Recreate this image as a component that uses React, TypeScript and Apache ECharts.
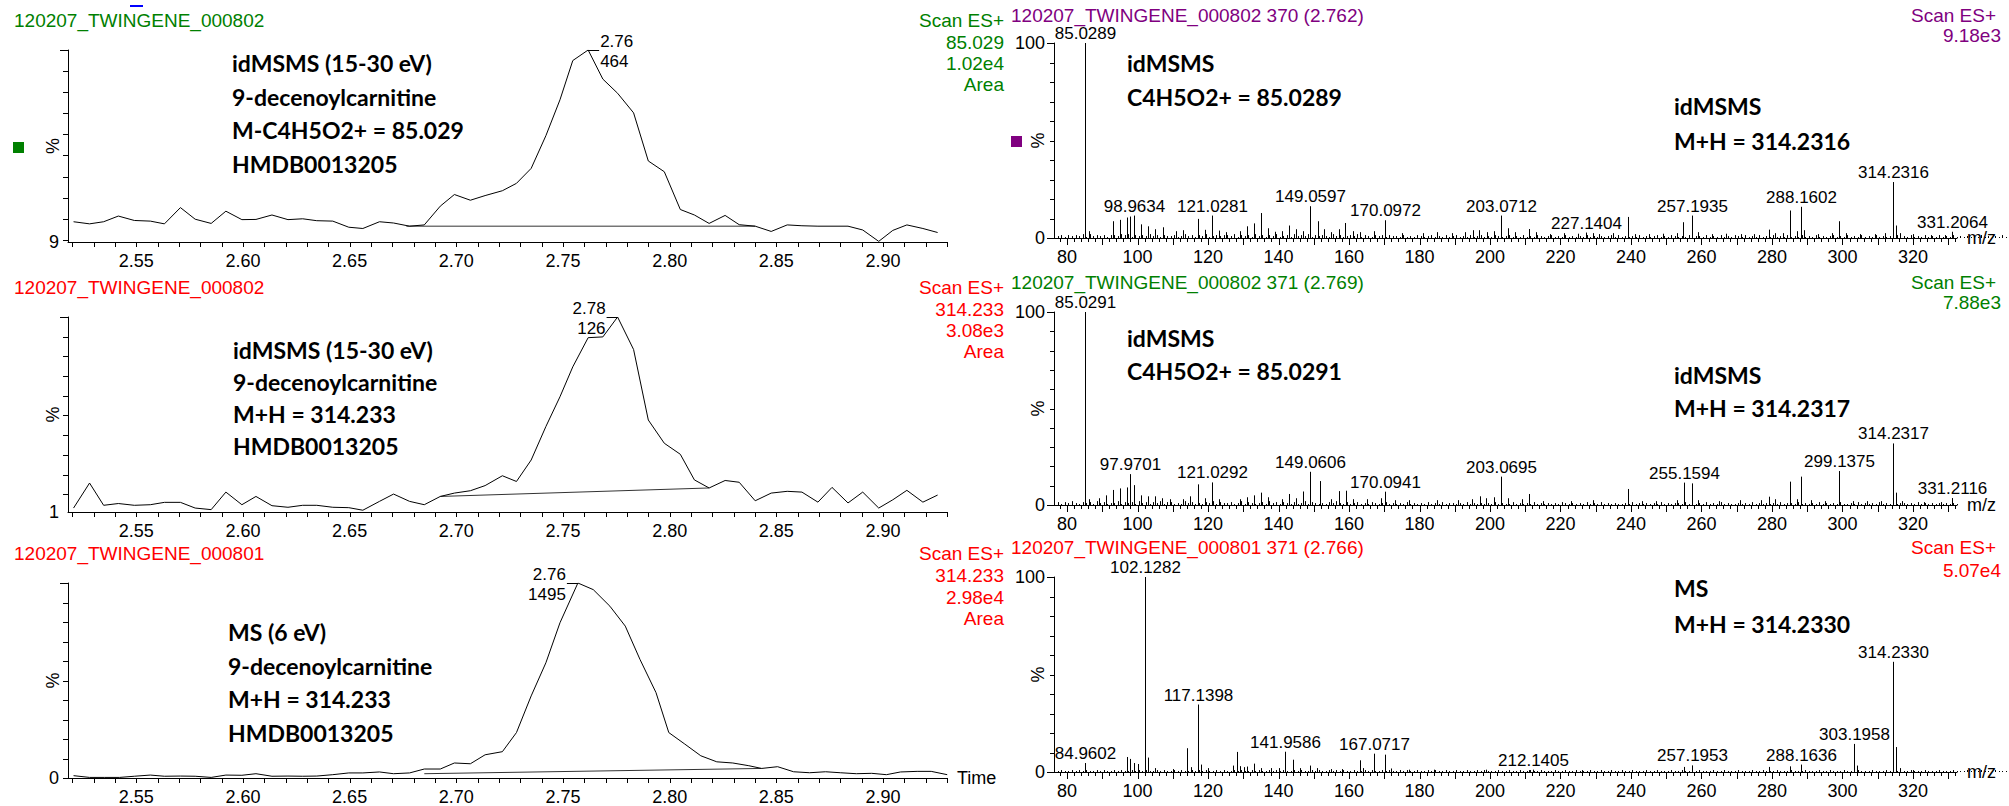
import React, { useEffect, useRef } from 'react';
import * as echarts from 'echarts';

const FONT = '"Liberation Sans", Arial, sans-serif';
const BOLD = 'Lato, "Open Sans", sans-serif';
const GREEN = '#008000';
const RED = '#ff0000';
const PURPLE = '#800080';

// ---------- chromatograms ----------
const scanTime802 = [2.5206, 2.5281, 2.5347, 2.5416, 2.5491, 2.5566, 2.5632, 2.5707, 2.5776, 2.5851, 2.5920, 2.5995, 2.6061, 2.6136, 2.6211, 2.6280, 2.6346, 2.6421, 2.6496, 2.6562, 2.6640, 2.6706, 2.6781, 2.6850, 2.6925, 2.6991, 2.7066, 2.7135, 2.7216, 2.7282, 2.7351, 2.7420, 2.7486, 2.7546, 2.7618, 2.7687, 2.7756, 2.7831, 2.7900, 2.7975, 2.8050, 2.8116, 2.8185, 2.8260, 2.8326, 2.8401, 2.8476, 2.8551, 2.8620, 2.8695, 2.8761, 2.8836, 2.8905, 2.8980, 2.9046, 2.9112, 2.9187, 2.9256];
const scanTime801 = [2.5206, 2.5281, 2.5350, 2.5422, 2.5491, 2.5566, 2.5632, 2.5707, 2.5776, 2.5851, 2.5920, 2.5995, 2.6061, 2.6136, 2.6211, 2.6280, 2.6346, 2.6421, 2.6496, 2.6562, 2.6640, 2.6706, 2.6781, 2.6850, 2.6925, 2.6991, 2.7066, 2.7135, 2.7216, 2.7282, 2.7351, 2.7420, 2.7486, 2.7570, 2.7642, 2.7720, 2.7792, 2.7861, 2.7936, 2.7996, 2.8071, 2.8146, 2.8221, 2.8296, 2.8371, 2.8431, 2.8506, 2.8581, 2.8656, 2.8731, 2.8800, 2.8875, 2.8947, 2.9016, 2.9082, 2.9160, 2.9226, 2.9301];
const trace85 = [18.6, 17.6, 18.6, 21.3, 19.2, 18.9, 17.6, 25.3, 19.8, 17.8, 23.6, 19.6, 19.7, 21.8, 19.6, 20.0, 19.1, 18.9, 16.0, 15.4, 18.6, 18.0, 16.5, 17.1, 26.0, 31.5, 28.8, 31.0, 33.3, 36.8, 43.9, 59.4, 76.4, 95.0, 100, 86.2, 79.5, 70.2, 47.4, 42.3, 24.4, 21.8, 17.8, 21.6, 17.2, 16.5, 14.0, 17.1, 16.7, 16.5, 16.5, 16.5, 14.7, 9.3, 14.5, 17.1, 15.4, 13.5];
const trace314ms2 = [3.0, 15.7, 4.4, 5.3, 4.4, 4.7, 5.9, 5.9, 3.0, 2.2, 11.1, 4.7, 8.9, 4.2, 3.4, 4.4, 4.4, 3.4, 3.2, 1.9, 6.4, 10.1, 6.4, 4.7, 8.9, 10.6, 11.8, 14.4, 19.4, 16.5, 27.4, 44.4, 59.5, 74.7, 89.5, 89.9, 100, 83.5, 47.7, 35.9, 30.3, 17.3, 13.2, 17.0, 16.1, 6.7, 10.6, 11.5, 11.1, 6.0, 13.5, 5.6, 11.1, 3.0, 7.2, 12.0, 6.0, 9.6];
const trace314ms = [1.2, 0.3, 0.3, 0.3, 0.9, 1.5, 0.9, 1.0, 0.9, 0.3, 1.5, 1.4, 2.2, 0.9, 1.0, 0.9, 1.0, 1.7, 2.6, 2.6, 3.1, 2.2, 2.6, 4.6, 4.6, 7.7, 7.3, 11.9, 13.5, 23.3, 42.1, 59.1, 79.6, 100, 96.6, 88.1, 77.9, 60.8, 43.8, 23.3, 17.4, 11.4, 8.3, 7.7, 6.3, 4.9, 5.8, 3.2, 2.7, 3.2, 2.7, 2.2, 2.4, 1.7, 3.1, 3.4, 3.4, 1.7];
const baseline85 = [[2.6766, 16.5], [2.8401, 16.5]];
const baseline314ms2 = [[2.6925, 8.9], [2.8185, 13.2]];
const baseline314ms = [[2.6850, 2.2], [2.8431, 4.9]];
const chromYMin = [9, 1, 0];
const chromYLabels = ['9', '1', '0'];
const apexTimeLabels = ['2.76', '2.78', '2.76'];
const apexHeightLabels = ['464', '126', '1495'];
const timeTickLabels = [2.55, 2.6, 2.65, 2.7, 2.75, 2.8, 2.85, 2.9];

// ---------- spectra ----------
const spec1Labelled = [[85.0289, 100], [98.9634, 11.5], [121.0281, 11.5], [149.0597, 16.3], [170.0972, 9.1], [203.0712, 11.5], [227.1404, 2.8], [257.1935, 11.5], [288.1602, 16.0], [314.2316, 28.7], [331.2064, 3.2]];
const spec1Minor = [[86.1, 3.5], [93.0, 8.6], [95.0, 9.3], [97.0, 10.5], [98.0, 11.0], [100.9, 7.0], [103.1, 6.0], [105.0, 4.5], [107.1, 5.5], [111.0, 3.5], [113.0, 4.0], [117.1, 9.8], [119.0, 4.2], [123.0, 3.8], [125.1, 3.0], [129.0, 3.5], [131.1, 6.0], [133.0, 7.5], [135.0, 12.8], [137.1, 5.0], [139.0, 3.2], [141.0, 3.5], [143.1, 6.4], [145.0, 4.5], [147.0, 3.5], [151.1, 8.6], [153.0, 4.5], [155.0, 3.0], [157.1, 4.5], [159.0, 7.7], [161.0, 3.5], [163.1, 3.0], [167.0, 3.5], [175.0, 2.5], [181.1, 2.5], [185.0, 3.0], [189.1, 2.5], [193.0, 3.0], [195.1, 4.0], [197.0, 4.0], [199.1, 3.0], [201.0, 3.5], [205.0, 5.0], [207.1, 3.0], [211.1, 4.6], [213.0, 3.0], [217.1, 2.0], [221.0, 2.5], [225.0, 2.2], [229.1, 2.5], [231.0, 2.0], [235.0, 2.5], [239.1, 10.8], [241.0, 2.0], [245.1, 2.0], [249.0, 2.2], [253.1, 2.5], [254.9, 8.1], [259.1, 3.0], [263.0, 2.0], [267.1, 2.2], [271.1, 2.0], [275.0, 2.0], [279.1, 4.3], [281.0, 2.5], [283.1, 2.5], [285.1, 14.1], [287.1, 3.5], [289.1, 4.0], [293.0, 2.0], [297.1, 2.5], [298.9, 8.6], [301.1, 2.5], [305.0, 2.0], [309.1, 2.0], [312.0, 2.5], [315.2, 6.4], [316.2, 2.5], [320.0, 2.0], [325.1, 1.5], [329.0, 1.5]];
const spec1Grass = '2313232414232313324341323242313223124231324123233241323142313241231423241323214231232413213231322131213212312131231213123121321231213121321231213121213121212313121213121231213212131221312131213213121312131213121312131212312131213121312121312131213121312131212121312121312121';

const spec2Labelled = [[85.0291, 100], [97.9701, 16.0], [121.0292, 11.7], [149.0606, 17.2], [170.0941, 6.9], [203.0695, 14.7], [255.1594, 11.6], [299.1375, 17.6], [314.2317, 31.9], [331.2116, 3.6]];
const spec2Minor = [[86.1, 3.0], [89.0, 3.5], [91.0, 5.0], [93.0, 7.8], [95.0, 8.6], [96.9, 9.1], [99.0, 10.3], [101.0, 5.0], [103.1, 4.5], [105.0, 4.5], [107.0, 3.5], [109.1, 3.0], [113.0, 3.0], [115.0, 4.5], [117.1, 10.7], [119.0, 3.5], [123.0, 3.0], [129.1, 3.0], [131.0, 4.0], [133.0, 5.0], [135.0, 6.4], [137.0, 4.0], [141.1, 3.0], [143.1, 5.7], [145.0, 3.5], [147.0, 7.0], [151.9, 12.4], [155.0, 3.0], [157.1, 7.2], [159.1, 7.4], [161.0, 3.0], [165.0, 3.0], [169.0, 3.5], [173.0, 2.5], [177.0, 2.5], [185.1, 2.5], [191.0, 2.5], [195.0, 3.0], [197.1, 4.5], [199.0, 3.5], [201.0, 4.0], [205.0, 3.5], [209.0, 3.0], [211.1, 5.7], [215.0, 2.0], [223.0, 2.0], [229.1, 2.5], [239.1, 8.3], [243.0, 2.0], [247.1, 2.0], [253.0, 2.5], [257.2, 11.2], [259.0, 2.5], [265.0, 2.0], [271.0, 2.5], [277.0, 2.5], [279.1, 4.3], [281.0, 3.0], [285.1, 12.1], [287.0, 3.0], [288.2, 14.7], [291.0, 2.5], [295.0, 2.0], [303.0, 2.0], [307.1, 2.0], [311.0, 2.0], [315.2, 6.4], [317.0, 2.0], [323.0, 1.5], [328.0, 1.5]];
const spec2Grass = '3132421323142312241323142313241331214231213241322312413212314231321312413212132421312312132123121213121213121312212131212121312113121213121212132121213121312121121312121213121221312121312131211212131212121312213121213121213112131212131212122121312121212121';

const spec3Labelled = [[84.9602, 4.6], [102.1282, 100], [117.1398, 34.6], [141.9586, 10.4], [167.0717, 9.4], [212.1405, 1.2], [257.1953, 3.4], [288.1636, 3.8], [303.1958, 14.4], [314.2330, 56.5]];
const spec3Minor = [[96.9, 7.7], [97.9, 6.7], [99.0, 4.6], [100.1, 4.1], [103.1, 7.4], [105.0, 2.0], [110.0, 1.5], [114.1, 12.2], [115.1, 2.5], [118.1, 3.8], [120.0, 2.0], [127.0, 3.3], [128.1, 10.3], [129.0, 3.0], [130.1, 2.5], [131.1, 2.8], [133.1, 4.3], [135.0, 2.0], [138.0, 2.0], [140.0, 2.0], [144.1, 6.3], [146.0, 2.0], [149.0, 3.3], [151.0, 2.0], [155.0, 1.5], [158.0, 1.5], [163.1, 6.0], [164.1, 2.0], [170.1, 8.9], [172.0, 1.8], [177.0, 1.2], [184.0, 1.2], [199.0, 1.2], [211.0, 1.0], [226.0, 1.0], [255.1, 2.6], [279.1, 2.6], [285.1, 2.9], [304.2, 3.3], [315.2, 12.8], [316.2, 2.0], [320.0, 1.0]];
const spec3Grass = '1211212121121211212112121211212112121121212112121121211212112121211212112121121212112112121121211212112112121121121121121211121121121121121112112112111211211211211211121121112112111121112112111211121121112111211121112112111211121112111211121121112111211121112111211121112111211';
const grassStartMz = 77.4;
const mzTickLabels = [80, 100, 120, 140, 160, 180, 200, 220, 240, 260, 280, 300, 320];

// ---------- layout ----------
const TMIN = 2.518, TMAX = 2.93;
const MZMIN = 76.3, MZMAX = 332.5;
const grids = [
  { left: 68, top: 50, width: 879, height: 192 },
  { left: 68, top: 317, width: 879, height: 195 },
  { left: 68, top: 583, width: 879, height: 195 },
  { left: 1054, top: 43, width: 903, height: 195 },
  { left: 1054, top: 312, width: 903, height: 193 },
  { left: 1054, top: 577, width: 903, height: 195 },
];

const crisp = (v: number) => Math.round(v) + 0.5;

function txt(text: string, x: number, y: number, color: string, font: string, align = 'left') {
  return {
    type: 'text', x, y, silent: true,
    style: { text, fill: color, font, align, verticalAlign: 'middle', textAlign: align, textVerticalAlign: 'middle' },
  };
}

function tickSeries(gi: number, xMin: number, yMin: number, ticks: number[][]) {
  return {
    type: 'custom', xAxisIndex: gi, yAxisIndex: gi, silent: true, clip: false, z: 5,
    data: ticks,
    renderItem: (params: any, api: any) => {
      const kind = api.value(0), v = api.value(1), len = api.value(2);
      if (kind === 0) {
        const p = api.coord([v, yMin]);
        const x = crisp(p[0]);
        return { type: 'line', shape: { x1: x, y1: p[1], x2: x, y2: p[1] + len }, style: { stroke: '#000', lineWidth: 1 } };
      }
      const p = api.coord([xMin, v]);
      const y = crisp(p[1]);
      return { type: 'line', shape: { x1: p[0] - len, y1: y, x2: p[0], y2: y }, style: { stroke: '#000', lineWidth: 1 } };
    },
  };
}

function labelSeries(gi: number, xMin: number, yMin: number, items: number[][], texts: string[]) {
  return {
    type: 'custom', xAxisIndex: gi, yAxisIndex: gi, silent: true, clip: false, z: 5,
    data: items,
    renderItem: (params: any, api: any) => {
      const kind = api.value(0), v = api.value(1);
      const text = texts[params.dataIndex];
      if (kind === 0) {
        const p = api.coord([v, yMin]);
        return { type: 'text', x: p[0], y: p[1] + 10, style: { text, fill: '#000', font: `18px ${FONT}`, align: 'center', verticalAlign: 'top', textAlign: 'center', textVerticalAlign: 'top' } };
      }
      const p = api.coord([xMin, v]);
      return { type: 'text', x: p[0] - 9, y: p[1], style: { text, fill: '#000', font: `18px ${FONT}`, align: 'right', verticalAlign: 'middle', textAlign: 'right', textVerticalAlign: 'middle' } };
    },
  };
}

function apexSeries(gi: number, times: number[], values: number[], side: number) {
  let k = 0;
  values.forEach((v, i) => { if (v > values[k]) k = i; });
  return {
    type: 'custom', xAxisIndex: gi, yAxisIndex: gi, silent: true, clip: false, z: 6,
    data: [[times[k], values[k]]],
    renderItem: (params: any, api: any) => {
      const p = api.coord([api.value(0), api.value(1)]);
      const y = crisp(p[1]);
      const ex = p[0] + side * 11;
      const align = side > 0 ? 'left' : 'right';
      const tx = side > 0 ? ex + 1 : ex - 1;
      return {
        type: 'group',
        children: [
          { type: 'line', shape: { x1: p[0], y1: y, x2: ex, y2: y }, style: { stroke: '#000', lineWidth: 1 } },
          { type: 'text', x: tx, y: p[1] - 9, style: { text: apexTimeLabels[gi], fill: '#000', font: `17px ${FONT}`, align, verticalAlign: 'middle', textAlign: align, textVerticalAlign: 'middle' } },
          { type: 'text', x: tx, y: p[1] + 11, style: { text: apexHeightLabels[gi], fill: '#000', font: `17px ${FONT}`, align, verticalAlign: 'middle', textAlign: align, textVerticalAlign: 'middle' } },
        ],
      };
    },
  };
}

function grassPoints(s: string) {
  return s.split('').map((c, i) => [grassStartMz + i, Number(c) * 0.5]);
}

function stickSeries(gi: number, peaks: number[][]) {
  return {
    type: 'custom', xAxisIndex: gi, yAxisIndex: gi, silent: true, clip: false, z: 3,
    data: peaks,
    renderItem: (params: any, api: any) => {
      const m = api.value(0), h = api.value(1);
      const b = api.coord([m, 0]);
      const t = api.coord([m, h]);
      const x = crisp(b[0]);
      return { type: 'line', shape: { x1: x, y1: b[1], x2: x, y2: t[1] }, style: { stroke: '#000', lineWidth: 1 } };
    },
  };
}

function peakLabelSeries(gi: number, peaks: number[][]) {
  return {
    type: 'custom', xAxisIndex: gi, yAxisIndex: gi, silent: true, clip: false, z: 4,
    data: peaks,
    renderItem: (params: any, api: any) => {
      const m = api.value(0), h = api.value(1);
      const t = api.coord([m, h]);
      return {
        type: 'text', x: crisp(t[0]), y: t[1] - 1,
        style: { text: m.toFixed(4), fill: '#000', font: `17px ${FONT}`, align: 'center', verticalAlign: 'bottom', textAlign: 'center', textVerticalAlign: 'bottom' },
      };
    },
  };
}

function buildOption() {
  const xAxis: any[] = [];
  const yAxis: any[] = [];
  const series: any[] = [];
  const axisLine = { show: true, onZero: false, lineStyle: { color: '#000', width: 1 } };
  const nameStyle = { color: '#000', fontSize: 18, fontFamily: FONT };

  grids.forEach((g, gi) => {
    const chrom = gi < 3;
    xAxis.push({
      type: 'value', gridIndex: gi, min: chrom ? TMIN : MZMIN, max: chrom ? TMAX : MZMAX,
      axisLine, axisTick: { show: false }, axisLabel: { show: false }, splitLine: { show: false },
      name: gi === 2 ? 'Time' : gi >= 3 ? 'm/z' : '', nameLocation: 'end', nameGap: 10,
      nameTextStyle: { ...nameStyle, verticalAlign: 'middle', align: 'left', padding: [9, 0, 0, 0] },
    });
    yAxis.push({
      type: 'value', gridIndex: gi, min: chrom ? chromYMin[gi] : 0, max: 100,
      axisLine, axisTick: { show: false }, axisLabel: { show: false }, splitLine: { show: false },
      name: '%', nameLocation: 'middle', nameRotate: 90, nameGap: chrom ? 6 : 7, nameTextStyle: nameStyle,
    });

    const xMin = chrom ? TMIN : MZMIN;
    const yMin = chrom ? chromYMin[gi] : 0;
    const ticks: number[][] = [];
    const labels: number[][] = [];
    const labelTexts: string[] = [];
    if (chrom) {
      for (let k = 252; k <= 293; k++) ticks.push([0, k / 100, 5]);
      for (let v = 10; v <= 100; v += 10) ticks.push([1, v, v === 100 ? 8 : 5]);
      if (yMin === 0) ticks.push([1, 0, 5]);
      timeTickLabels.forEach((t) => { labels.push([0, t]); labelTexts.push(t.toFixed(2)); });
      labels.push([1, yMin]); labelTexts.push(chromYLabels[gi]);
    } else {
      for (let m = 78; m <= 332; m += 2) ticks.push([0, m, m % 10 === 0 ? 7 : 4]);
      for (let v = 0; v <= 100; v += 10) ticks.push([1, v, v === 0 || v === 100 ? 7 : 4]);
      mzTickLabels.forEach((m) => { labels.push([0, m]); labelTexts.push(String(m)); });
      labels.push([1, 0]); labelTexts.push('0');
      labels.push([1, 100]); labelTexts.push('100');
    }
    series.push(tickSeries(gi, xMin, yMin, ticks));
    series.push(labelSeries(gi, xMin, yMin, labels, labelTexts));
  });

  const traces = [
    { t: scanTime802, v: trace85, base: baseline85, side: 1 },
    { t: scanTime802, v: trace314ms2, base: baseline314ms2, side: -1 },
    { t: scanTime801, v: trace314ms, base: baseline314ms, side: -1 },
  ];
  traces.forEach((tr, gi) => {
    series.push({
      type: 'line', xAxisIndex: gi, yAxisIndex: gi, silent: true, symbol: 'none', showSymbol: false,
      data: tr.t.map((t, i) => [t, tr.v[i]]), lineStyle: { color: '#000', width: 1 }, z: 3,
    });
    series.push({
      type: 'line', xAxisIndex: gi, yAxisIndex: gi, silent: true, symbol: 'none', showSymbol: false,
      data: tr.base, lineStyle: { color: '#333', width: 1 }, z: 2,
    });
    series.push(apexSeries(gi, tr.t, tr.v, tr.side));
  });

  const specs = [
    { lab: spec1Labelled, minor: spec1Minor, grass: spec1Grass },
    { lab: spec2Labelled, minor: spec2Minor, grass: spec2Grass },
    { lab: spec3Labelled, minor: spec3Minor, grass: spec3Grass },
  ];
  specs.forEach((s, k) => {
    const gi = 3 + k;
    series.push(stickSeries(gi, [...grassPoints(s.grass), ...s.minor, ...s.lab]));
    series.push(peakLabelSeries(gi, s.lab));
  });

  const HF = `19px ${FONT}`;
  const AF = `bold 23px ${BOLD}`;
  const graphic: any[] = [
    { type: 'line', silent: true, shape: { x1: 130, y1: 6, x2: 143, y2: 6 }, style: { stroke: '#0000ff', lineWidth: 2 } },
    { type: 'rect', silent: true, shape: { x: 13, y: 142, width: 11, height: 11 }, style: { fill: GREEN } },
    { type: 'rect', silent: true, shape: { x: 1011, y: 136, width: 11, height: 11 }, style: { fill: PURPLE } },
    // left headers
    txt('120207_TWINGENE_000802', 14, 20, GREEN, HF),
    txt('Scan ES+', 1004, 20, GREEN, HF, 'right'),
    txt('85.029', 1004, 42, GREEN, HF, 'right'),
    txt('1.02e4', 1004, 63, GREEN, HF, 'right'),
    txt('Area', 1004, 84, GREEN, HF, 'right'),
    txt('120207_TWINGENE_000802', 14, 287, RED, HF),
    txt('Scan ES+', 1004, 287, RED, HF, 'right'),
    txt('314.233', 1004, 309, RED, HF, 'right'),
    txt('3.08e3', 1004, 330, RED, HF, 'right'),
    txt('Area', 1004, 351, RED, HF, 'right'),
    txt('120207_TWINGENE_000801', 14, 553, RED, HF),
    txt('Scan ES+', 1004, 553, RED, HF, 'right'),
    txt('314.233', 1004, 575, RED, HF, 'right'),
    txt('2.98e4', 1004, 597, RED, HF, 'right'),
    txt('Area', 1004, 618, RED, HF, 'right'),
    // right headers
    txt('120207_TWINGENE_000802 370 (2.762)', 1011, 15, PURPLE, HF),
    txt('Scan ES+', 1996, 15, PURPLE, HF, 'right'),
    txt('9.18e3', 2001, 35, PURPLE, HF, 'right'),
    txt('120207_TWINGENE_000802 371 (2.769)', 1011, 282, GREEN, HF),
    txt('Scan ES+', 1996, 282, GREEN, HF, 'right'),
    txt('7.88e3', 2001, 302, GREEN, HF, 'right'),
    txt('120207_TWINGENE_000801 371 (2.766)', 1011, 547, RED, HF),
    txt('Scan ES+', 1996, 547, RED, HF, 'right'),
    txt('5.07e4', 2001, 570, RED, HF, 'right'),
    // annotations
    txt('idMSMS (15-30 eV)', 232, 63, '#000', AF),
    txt('9-decenoylcarnitine', 232, 97, '#000', AF),
    txt('M-C4H5O2+ = 85.029', 232, 130, '#000', AF),
    txt('HMDB0013205', 232, 164, '#000', AF),
    txt('idMSMS (15-30 eV)', 233, 350, '#000', AF),
    txt('9-decenoylcarnitine', 233, 382, '#000', AF),
    txt('M+H = 314.233', 233, 414, '#000', AF),
    txt('HMDB0013205', 233, 446, '#000', AF),
    txt('MS (6 eV)', 228, 632, '#000', AF),
    txt('9-decenoylcarnitine', 228, 666, '#000', AF),
    txt('M+H = 314.233', 228, 699, '#000', AF),
    txt('HMDB0013205', 228, 733, '#000', AF),
    txt('idMSMS', 1127, 63, '#000', AF),
    txt('C4H5O2+ = 85.0289', 1127, 97, '#000', AF),
    txt('idMSMS', 1674, 106, '#000', AF),
    txt('M+H = 314.2316', 1674, 141, '#000', AF),
    txt('idMSMS', 1127, 338, '#000', AF),
    txt('C4H5O2+ = 85.0291', 1127, 371, '#000', AF),
    txt('idMSMS', 1674, 375, '#000', AF),
    txt('M+H = 314.2317', 1674, 408, '#000', AF),
    txt('MS', 1674, 588, '#000', AF),
    txt('M+H = 314.2330', 1674, 624, '#000', AF),
  ];

  return {
    animation: false,
    backgroundColor: '#fff',
    grid: grids.map((g) => ({ ...g, containLabel: false, outerBoundsMode: 'none' })),
    xAxis, yAxis, series, graphic,
  };
}

export default function App() {
  const ref = useRef<HTMLDivElement>(null);
  useEffect(() => {
    document.body.style.margin = '0';
    const chart = echarts.init(ref.current as HTMLDivElement, null, { renderer: 'svg' });
    chart.setOption(buildOption() as any);
    return () => chart.dispose();
  }, []);
  return <div ref={ref} style={{ width: 2009, height: 806 }} />;
}
